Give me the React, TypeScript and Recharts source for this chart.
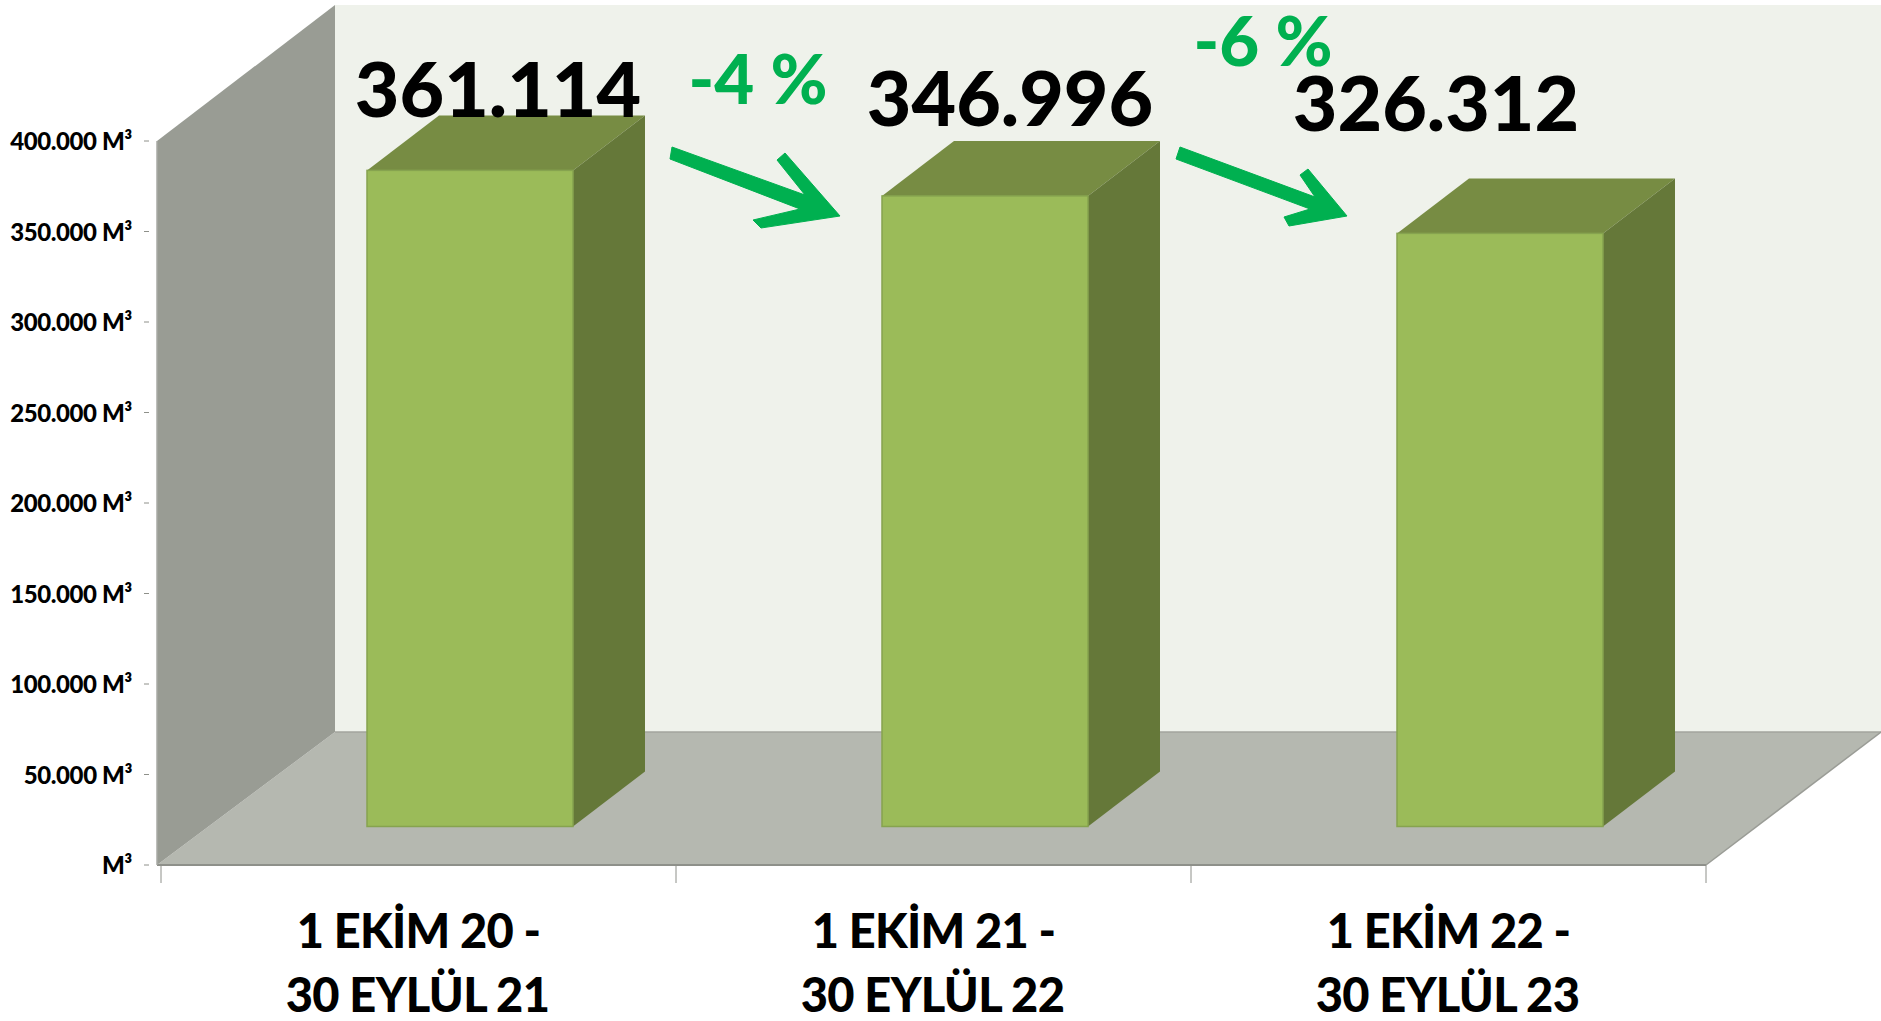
import React from "react";
import { Bar, BarChart, LabelList, ReferenceArea, XAxis, YAxis } from "recharts";

const periodStarts = ["1 EKİM 20 -", "1 EKİM 21 -", "1 EKİM 22 -"];
const periodEnds = ["30 EYLÜL 21", "30 EYLÜL 22", "30 EYLÜL 23"];
const volumes = [361114, 346996, 326312];
const yTicks = [0, 50000, 100000, 150000, 200000, 250000, 300000, 350000, 400000];
const labelNudges = [
  { dx: 28, dy: -53 },
  { dx: 25, dy: -70 },
  { dx: -64, dy: -102 },
];
const changes = [
  { text: "-4 %", x: 758, y: 104 },
  { text: "-6 %", x: 1263, y: 66 },
];
const arrows = [
  "672,147 805,195 777,160 785,153 840,216 761,228 753,220 800,209 670,159",
  "1180,147 1315,197 1300,175 1308,169 1347,216 1289,226 1284,217 1310,209 1176,159",
];

const rows = periodStarts.map((start, i) => ({
  start,
  end: periodEnds[i],
  volume: volumes[i],
}));

const FONT = "Lato, Carlito, sans-serif";
const depth = { x: 72, y: 55 };
const barShift = { x: 51, y: -41, base: 2.5 };
const green = "#00b050";

const fmtThousands = (v: number) =>
  String(v).replace(/\B(?=(\d{3})+$)/g, ".");

function Room(props: any) {
  const { x, y, width, height } = props;
  const L = x - 4;
  const R = x + width;
  const B = y + height;
  const dx = 178;
  const dy = 133;
  const T = y - 136;
  return (
    <g>
      <polygon
        points={`${L + dx},${T} 1881,${T} 1881,${B - dy} ${L + dx},${B - dy}`}
        fill="#eff2eb"
      />
      <polygon
        points={`${L},${B} ${L + dx},${B - dy} 1881,${B - dy} ${R},${B}`}
        fill="#b5b8b0"
      />
      <polygon
        points={`${L},${y} ${L + dx},${T} ${L + dx},${B - dy} ${L},${B}`}
        fill="#999c94"
      />
      <line x1={L + dx} y1={B - dy} x2={1881} y2={B - dy} stroke="#a3a59e" strokeWidth={1.5} />
      <line x1={L} y1={B} x2={R} y2={B} stroke="#8e908a" strokeWidth={2} />
      <line x1={R} y1={B} x2={1881} y2={B - dy} stroke="#9a9c96" strokeWidth={1.5} />
      <line x1={L} y1={y} x2={L} y2={B} stroke="#a8aaa4" strokeWidth={1.5} />
    </g>
  );
}

function Box(props: any) {
  const { x, y, width, height } = props;
  const l = x + barShift.x;
  const r = l + width;
  const t = y + barShift.y;
  const b = y + height + barShift.y + barShift.base;
  return (
    <g>
      <polygon
        points={`${l},${t} ${l + depth.x},${t - depth.y} ${r + depth.x},${t - depth.y} ${r},${t}`}
        fill="#778c43"
      />
      <polygon
        points={`${r},${t} ${r + depth.x},${t - depth.y} ${r + depth.x},${b - depth.y} ${r},${b}`}
        fill="#657839"
      />
      <rect x={l} y={t} width={width} height={b - t} fill="#9bbb59" stroke="#86a34f" strokeWidth={1.5} />
    </g>
  );
}

function ValueLabel(props: any) {
  const { x, y, width, value, index } = props;
  const n = labelNudges[index];
  return (
    <text
      x={x + width / 2 + barShift.x + n.dx}
      y={y + barShift.y + n.dy}
      textAnchor="middle"
      fontFamily={FONT}
      fontWeight={900}
      fontSize={77}
      fill="#000"
    >
      {fmtThousands(value)}
    </text>
  );
}

function YTick(props: any) {
  const { x, y, payload } = props;
  const v = payload.value as number;
  return (
    <g>
      <line x1={x - 9} y1={y} x2={x - 4} y2={y} stroke="#8e908a" strokeWidth={1} />
      <text
        x={x - 21}
        y={y + 9}
        textAnchor="end"
        fontFamily={FONT}
        fontWeight={900}
        fontSize={24}
        letterSpacing={-0.4}
        fill="#000"
      >
        {v === 0 ? "M³" : `${fmtThousands(v)} M³`}
      </text>
    </g>
  );
}

function XTick(props: any) {
  const { x, y, payload, index, width, visibleTicksCount } = props;
  const band = width / (visibleTicksCount || 3);
  const top = y - 8;
  return (
    <g>
      <line x1={x - band / 2} y1={top} x2={x - band / 2} y2={top + 18} stroke="#8e908a" strokeWidth={1} />
      {index === periodStarts.length - 1 && (
        <line x1={x + band / 2} y1={top} x2={x + band / 2} y2={top + 18} stroke="#8e908a" strokeWidth={1} />
      )}
      <text textAnchor="middle" fontFamily={FONT} fontWeight={900} fontSize={47} letterSpacing={-0.7} fill="#000">
        <tspan x={x} y={948}>{payload.value}</tspan>
        <tspan x={x - 1} y={1012}>{periodEnds[index]}</tspan>
      </text>
    </g>
  );
}

function Overlay() {
  return (
    <g>
      {arrows.map((points) => (
        <polygon key={points} points={points} fill={green} stroke={green} strokeWidth={1} strokeLinejoin="round" />
      ))}
      {changes.map((c) => (
        <text
          key={c.text}
          x={c.x}
          y={c.y}
          textAnchor="middle"
          fontFamily={FONT}
          fontWeight={900}
          fontSize={69}
          fill={green}
        >
          {c.text}
        </text>
      ))}
    </g>
  );
}

export default function App() {
  return (
    <div style={{ position: "fixed", left: 0, top: 0, width: 1881, height: 1021, background: "#fff", overflow: "hidden" }}>
      <BarChart
        width={1881}
        height={1021}
        data={rows}
        margin={{ top: 141, right: 175, bottom: 0, left: 0 }}
        barCategoryGap={0}
      >
        <XAxis
          dataKey="start"
          type="category"
          height={156}
          axisLine={false}
          tickLine={false}
          interval={0}
          tick={<XTick />}
        />
        <YAxis
          width={161}
          domain={[0, 400000]}
          ticks={yTicks}
          axisLine={false}
          tickLine={false}
          interval={0}
          tick={<YTick />}
        />
        <ReferenceArea y1={0} y2={400000} ifOverflow="visible" shape={<Room />} />
        <ReferenceArea y1={0} y2={400000} ifOverflow="visible" shape={<Overlay />} />
        <Bar dataKey="volume" barSize={206} isAnimationActive={false} shape={<Box />}>
          <LabelList dataKey="volume" content={<ValueLabel />} />
        </Bar>
      </BarChart>
    </div>
  );
}
